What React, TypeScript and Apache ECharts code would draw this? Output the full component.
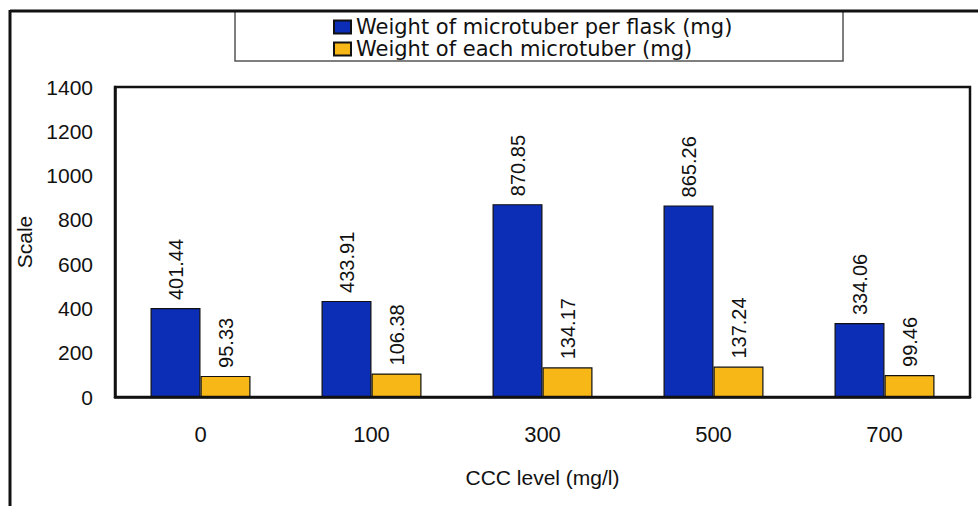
import React, { useEffect, useRef } from "react";
import * as echarts from "echarts";

const categories = ["0", "100", "300", "500", "700"];
const perFlask = [401.44, 433.91, 870.85, 865.26, 334.06];
const eachTuber = [95.33, 106.38, 134.17, 137.24, 99.46];
const seriesNames = ["Weight of microtuber per flask (mg)", "Weight of each microtuber (mg)"];
const yMin = 0;
const yMax = 1400;
const yInterval = 200;

const FONT = "'Liberation Sans', Arial, sans-serif";
const INK = "#111111";

export default function App() {
  const ref = useRef<HTMLDivElement>(null);
  useEffect(() => {
    document.body.style.margin = "0";
    const chart = echarts.init(ref.current!, null, { renderer: "svg" });
    const label = {
      show: true,
      position: "top",
      rotate: 90,
      align: "left",
      verticalAlign: "middle",
      distance: 8,
      fontSize: 20,
      fontFamily: FONT,
      color: INK,
      formatter: (p: any) => Number(p.value).toFixed(2),
    };
    chart.setOption({
      animation: false,
      backgroundColor: "#ffffff",
      textStyle: { fontFamily: FONT, color: INK },
      graphic: [
        { type: "line", shape: { x1: 10, y1: 11, x2: 978, y2: 11 }, style: { stroke: INK, lineWidth: 3 } },
        { type: "line", shape: { x1: 10, y1: 10, x2: 10, y2: 506 }, style: { stroke: INK, lineWidth: 3 } },
        {
          type: "rect",
          shape: { x: 235, y: 11, width: 608, height: 50 },
          style: { fill: "none", stroke: "#555555", lineWidth: 1.5 },
          z: -1,
        },
      ],
      legend: {
        orient: "vertical",
        left: 333,
        top: 16,
        padding: 0,
        itemGap: 0,
        itemWidth: 17,
        itemHeight: 13,
        icon: "rect",
        textStyle: { fontSize: 21, fontFamily: "'DejaVu Sans', sans-serif", lineHeight: 22, color: INK },
        data: seriesNames,
      },
      grid: {
        left: 115,
        top: 87,
        width: 855,
        height: 310,
        show: true,
        borderColor: INK,
        borderWidth: 2.5,
        containLabel: false,
      },
      xAxis: {
        type: "category",
        data: categories,
        name: "CCC level (mg/l)",
        nameLocation: "middle",
        nameGap: 70,
        nameTextStyle: { fontSize: 21, fontFamily: FONT, color: INK },
        axisLine: { show: true, lineStyle: { color: INK, width: 2.5 } },
        axisTick: { show: false },
        axisLabel: { fontSize: 22, fontFamily: FONT, color: INK, margin: 26 },
      },
      yAxis: {
        type: "value",
        min: yMin,
        max: yMax,
        interval: yInterval,
        name: "Scale",
        nameLocation: "middle",
        nameGap: 72,
        nameTextStyle: { fontSize: 21, fontFamily: FONT, color: INK },
        axisLine: { show: true, lineStyle: { color: INK, width: 2.5 } },
        axisTick: { show: false },
        splitLine: { show: false },
        axisLabel: {
          fontSize: 21,
          fontFamily: FONT,
          color: INK,
          margin: 22,
          formatter: (v: number) => String(v),
        },
      },
      series: [
        {
          name: seriesNames[0],
          type: "bar",
          data: perFlask,
          barWidth: 50,
          barGap: "0%",
          itemStyle: { color: "#0c2db5", borderColor: INK, borderWidth: 1.2 },
          label,
        },
        {
          name: seriesNames[1],
          type: "bar",
          data: eachTuber,
          barWidth: 50,
          barGap: "0%",
          itemStyle: { color: "#f7b716", borderColor: INK, borderWidth: 1.2 },
          label,
        },
      ],
    });
    return () => chart.dispose();
  }, []);
  return <div ref={ref} style={{ width: 978, height: 506 }} />;
}
